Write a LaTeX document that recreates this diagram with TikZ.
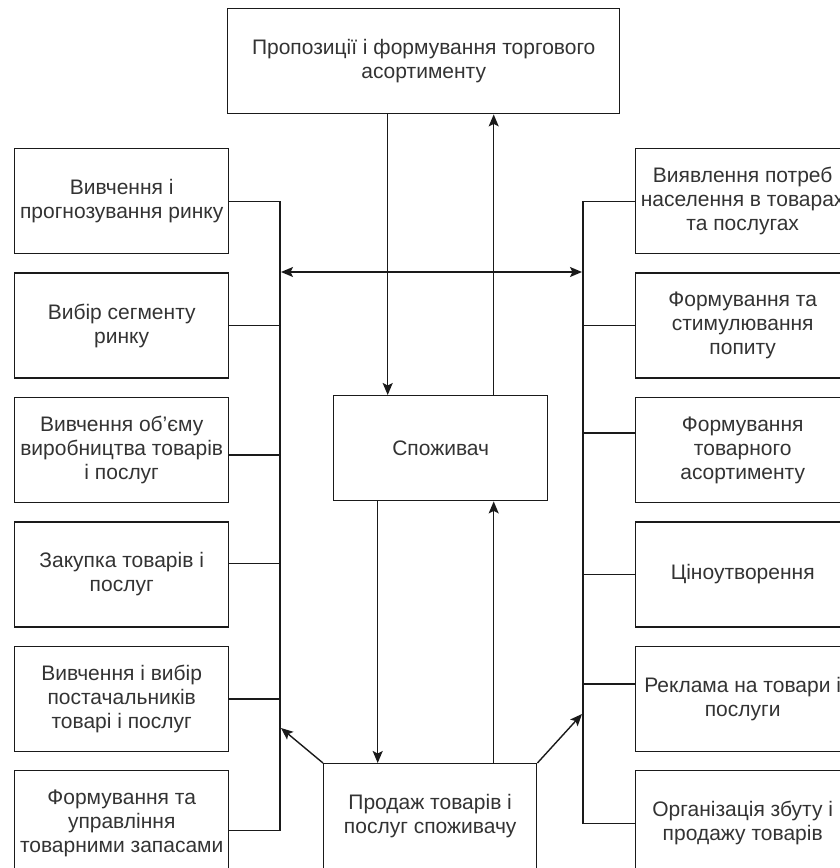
\documentclass[tikz,border=0pt]{standalone}
\usepackage{fontspec}
\setmainfont{Liberation Sans}
\usepackage{xcolor}
\usetikzlibrary{arrows.meta,positioning}
\definecolor{ink}{HTML}{1A1A1A}
\definecolor{txt}{HTML}{333333}

\begin{document}
\begin{tikzpicture}[x=1pt,y=-1pt,
  node distance=18pt and 18pt,
  box/.style={draw=ink,line width=1.4pt,minimum width=214pt,minimum height=105pt,inner sep=0pt,align=center,text=txt,font=\fontsize{21}{24}\selectfont},
  wire/.style={draw=ink,line width=1.4pt},
  arr/.style={wire,-{Stealth[length=12pt,width=10pt,inset=2.5pt]}},
  arrs/.style={wire,{Stealth[length=12pt,width=10pt,inset=2.5pt]}-{Stealth[length=12pt,width=10pt,inset=2.5pt]}}
]
\useasboundingbox (0,0) rectangle (839,868);
\node[box,minimum width=392pt,anchor=north west] (offer) at (227,8) {Пропозиції і формування торгового\\асортименту};
\node[box,anchor=north west] (cons) at (333,395) {Споживач};
\node[box,minimum width=213pt,anchor=north west] (sale) at (323,763) {Продаж товарів і\\послуг споживачу};
\node[box,anchor=north west] (l1) at (14,148) {Вивчення і\\прогнозування ринку};
\node[box,below=of l1] (l2) {Вибір сегменту\\ринку};
\node[box,below=of l2] (l3) {Вивчення об'єму\\виробництва товарів\\і послуг};
\node[box,below=of l3] (l4) {Закупка товарів і\\послуг};
\node[box,below=of l4] (l5) {Вивчення і вибір\\постачальників\\товарі і послуг};
\node[box,below=of l5] (l6) {Формування та\\управління\\товарними запасами};
\node[box,anchor=north west] (r1) at (635,148) {Виявлення потреб\\населення в товарах\\та послугах};
\node[box,below=of r1] (r2) {Формування та\\стимулювання\\попиту};
\node[box,below=of r2] (r3) {Формування\\товарного\\асортименту};
\node[box,below=of r3] (r4) {Ціноутворення};
\node[box,below=of r4] (r5) {Реклама на товари і\\послуги};
\node[box,below=of r5] (r6) {Організація збуту і\\продажу товарів};
\coordinate (busL) at (280,0);
\coordinate (busR) at (583,0);
\coordinate (jl3) at ([yshift=-5pt]l3.east);
\coordinate (jl4) at ([yshift=11pt]l4.east);
\coordinate (jl6) at ([yshift=-7pt]l6.east);
\coordinate (jr3) at ([yshift=17pt]r3.west);
\coordinate (jr5) at ([yshift=15pt]r5.west);
\draw[wire] (l1.east) -- (l1.east -| busL) -- (jl6 -| busL) -- (jl6);
\draw[wire] (l2.east) -- (l2.east -| busL);
\draw[wire] (jl3) -- (jl3 -| busL);
\draw[wire] (jl4) -- (jl4 -| busL);
\draw[wire] (l5.east) -- (l5.east -| busL);
\draw[wire] (r1.west) -- (r1.west -| busR) -- (r6.west -| busR) -- (r6.west);
\draw[wire] (r2.west) -- (r2.west -| busR);
\draw[wire] (jr3) -- (jr3 -| busR);
\draw[wire] (r4.west) -- (r4.west -| busR);
\draw[wire] (jr5) -- (jr5 -| busR);
\coordinate (cin) at ([xshift=-53pt]cons.north);
\coordinate (cout) at ([xshift=53pt]cons.north);
\coordinate (sin) at ([xshift=-63pt]cons.south);
\coordinate (sout) at ([xshift=53pt]cons.south);
\draw[arr] (cin |- offer.south) -- (cin);
\draw[arr] (cout) -- (cout |- offer.south);
\draw[arr] (sin) -- (sin |- sale.north);
\draw[arr] (sout |- sale.north) -- (sout);
\coordinate (hl) at (281,272);
\coordinate (hr) at (582,272);
\draw[arrs] (hl) -- (hr);
\coordinate (dl) at (281,728);
\coordinate (dr) at (582,714);
\draw[arr] (sale.north west) -- (dl);
\draw[arr] (sale.north east) -- (dr);
\end{tikzpicture}
\end{document}
